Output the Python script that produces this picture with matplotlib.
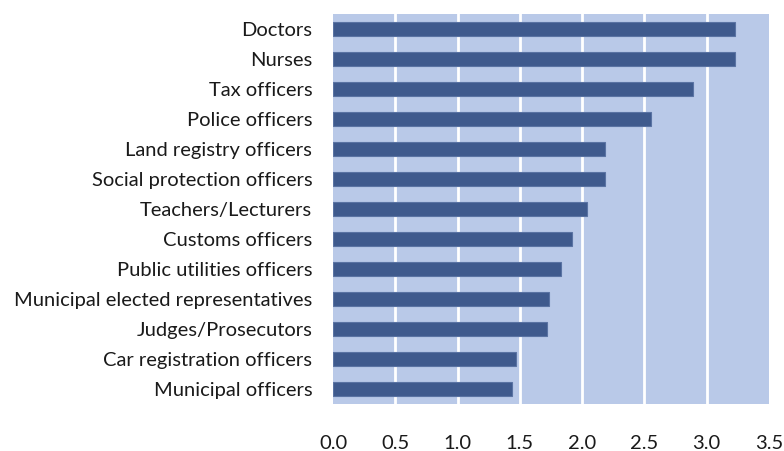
import matplotlib
matplotlib.use("Agg")
import matplotlib.pyplot as plt

categories = ["Doctors", "Nurses", "Tax officers", "Police officers",
              "Land registry officers", "Social protection officers",
              "Teachers/Lecturers", "Customs officers", "Public utilities officers",
              "Municipal elected representatives", "Judges/Prosecutors",
              "Car registration officers", "Municipal officers"]
values = [3.23, 3.23, 2.89, 2.55, 2.18, 2.18, 2.04, 1.92, 1.83, 1.73, 1.72, 1.47, 1.44]
xticks = [0.0, 0.5, 1.0, 1.5, 2.0, 2.5, 3.0, 3.5]
xtick_labels = ["0.0", "0.5", "1.0", "1.5", "2.0", "2.5", "3.0", "3.5"]

plt.rcParams['font.family'] = ['Lato', 'DejaVu Sans']

fig = plt.figure(figsize=(7.84, 4.51), dpi=100)
ax = fig.add_axes([333/784, 47/451, 436/784, 390/451])
ax.set_facecolor("#B9C9E8")

ypos = list(range(len(categories)))
ax.barh(ypos, values, height=0.47, color="#3F5A8D", edgecolor="#5A73A3", linewidth=0.8, zorder=3)
ax.set_ylim(len(categories) - 0.5, -0.5)
ax.set_xlim(0, 3.5)
ax.set_yticks(ypos)
ax.set_yticklabels(categories, fontsize=14.5, color="#1a1a1a")
ax.set_xticks(xticks)
ax.set_xticklabels(xtick_labels, fontsize=14.5, color="#1a1a1a")
ax.tick_params(axis='y', length=0, pad=15)
ax.tick_params(axis='x', length=0, pad=22.5)
for x in xticks[1:-1]:
    ax.axvline(x, color="white", linewidth=2, zorder=2)
for s in ax.spines.values():
    s.set_visible(False)

fig.savefig("out.png", dpi=100)
